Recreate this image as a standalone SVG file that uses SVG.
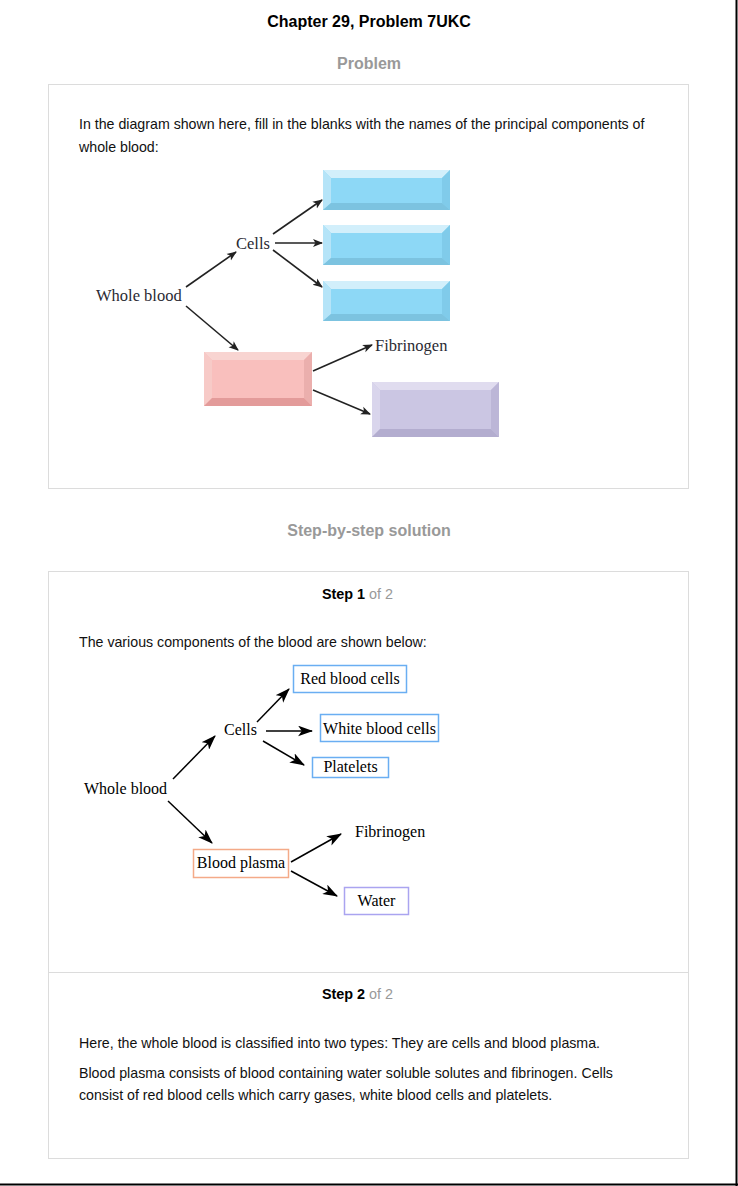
<svg xmlns="http://www.w3.org/2000/svg" width="738" height="1186" viewBox="0 0 738 1186">
  <style>
    .title { font-family: "Liberation Sans", Arial, sans-serif; font-size: 16px; font-weight: bold; fill: #000; }
    .head { font-family: "Liberation Sans", Arial, sans-serif; font-size: 16px; font-weight: bold; fill: #999; }
    .body { font-family: "Liberation Sans", Arial, sans-serif; font-size: 14.2px; fill: #111; }
    .step { font-family: "Liberation Sans", Arial, sans-serif; font-size: 14.4px; font-weight: bold; fill: #000; }
    .of { font-weight: normal; fill: #999; }
    .panel { fill: #fff; stroke: #dcdcdc; stroke-width: 1; }
    .fig { font-family: "Liberation Serif", "Times New Roman", serif; font-size: 16.5px; fill: #2a2a33; }
    .lbl { font-family: "Liberation Serif", "Times New Roman", serif; font-size: 16px; fill: #000; }
    .wire { stroke: #222; stroke-width: 1.6; fill: none; marker-end: url(#headS); }
    .wire2 { stroke: #000; stroke-width: 1.5; fill: none; marker-end: url(#headL); }
    .bx { fill: #fff; stroke-width: 1.5; }
  </style>
  <defs>
    <marker id="headS" viewBox="0 0 10 10" refX="9" refY="5" markerWidth="10" markerHeight="10" markerUnits="userSpaceOnUse" orient="auto">
      <path d="M0,1 L10,5 L0,9 L2.5,5 Z" fill="#222"/>
    </marker>
    <marker id="headL" viewBox="0 0 14 10" refX="13" refY="5" markerWidth="15" markerHeight="11" markerUnits="userSpaceOnUse" orient="auto">
      <path d="M0,0 L14,5 L0,10 L3.5,5 Z" fill="#000"/>
    </marker>
  </defs>

  <rect x="0" y="0" width="738" height="1186" fill="#fff"/>
  <!-- page frame edges -->
  <line x1="736.5" y1="0" x2="736.5" y2="1186" stroke="#000" stroke-width="2"/>
  <line x1="0" y1="1184.5" x2="738" y2="1184.5" stroke="#000" stroke-width="2"/>

  <text class="title" x="369" y="27" text-anchor="middle">Chapter 29, Problem 7UKC</text>
  <text class="head" x="369" y="69" text-anchor="middle">Problem</text>

  <!-- problem panel -->
  <rect class="panel" x="48.5" y="84.5" width="640" height="404"/>
  <text class="body" x="79" y="129">In the diagram shown here, fill in the blanks with the names of the principal components of</text>
  <text class="body" x="79" y="152">whole blood:</text>

  <!-- blank component boxes (bevelled) -->
  <g id="blank-cell-1">
    <rect x="323" y="170" width="127" height="40" fill="#8dd8f6"/>
    <polygon points="323,170 450,170 442,178 331,178" fill="#d2effb"/>
    <polygon points="323,170 331,178 331,203 323,210" fill="#b5e4f8"/>
    <polygon points="450,170 450,210 442,203 442,178" fill="#80cbea"/>
    <polygon points="323,210 331,203 442,203 450,210" fill="#7cc3e0"/>
  </g>
  <g id="blank-cell-2">
    <rect x="323" y="225" width="127" height="40" fill="#8dd8f6"/>
    <polygon points="323,225 450,225 442,233 331,233" fill="#d2effb"/>
    <polygon points="323,225 331,233 331,258 323,265" fill="#b5e4f8"/>
    <polygon points="450,225 450,265 442,258 442,233" fill="#80cbea"/>
    <polygon points="323,265 331,258 442,258 450,265" fill="#7cc3e0"/>
  </g>
  <g id="blank-cell-3">
    <rect x="323" y="281" width="127" height="40" fill="#8dd8f6"/>
    <polygon points="323,281 450,281 442,289 331,289" fill="#d2effb"/>
    <polygon points="323,281 331,289 331,314 323,321" fill="#b5e4f8"/>
    <polygon points="450,281 450,321 442,314 442,289" fill="#80cbea"/>
    <polygon points="323,321 331,314 442,314 450,321" fill="#7cc3e0"/>
  </g>
  <g id="blank-plasma">
    <rect x="204" y="352" width="108" height="54" fill="#f9bfbd"/>
    <polygon points="204,352 312,352 304,360 212,360" fill="#f8d4d1"/>
    <polygon points="204,352 212,360 212,398 204,406" fill="#f7cac7"/>
    <polygon points="312,352 312,406 304,398 304,360" fill="#ebafad"/>
    <polygon points="204,406 212,398 304,398 312,406" fill="#e39b9a"/>
  </g>
  <g id="blank-plasma-part">
    <rect x="372" y="382" width="127" height="55" fill="#cbc6e3"/>
    <polygon points="372,382 499,382 491,390 380,390" fill="#e0dcef"/>
    <polygon points="372,382 380,390 380,429 372,437" fill="#d9d5ec"/>
    <polygon points="499,382 499,437 491,429 491,390" fill="#bcb6d7"/>
    <polygon points="372,437 380,429 491,429 499,437" fill="#b3adcf"/>
  </g>
  <g id="fig-whole-blood"><text class="fig" x="96" y="301">Whole blood</text></g>
  <g id="fig-cells"><text class="fig" x="236" y="249">Cells</text></g>
  <g id="fig-fibrinogen"><text class="fig" x="375" y="351">Fibrinogen</text></g>

  <g id="fig-connectors">
    <line class="wire" x1="186" y1="287" x2="236" y2="252"/>
    <line class="wire" x1="273" y1="234" x2="322" y2="200"/>
    <line class="wire" x1="275" y1="243" x2="322" y2="243"/>
    <line class="wire" x1="273" y1="250" x2="322" y2="287"/>
    <line class="wire" x1="186" y1="306" x2="238" y2="350"/>
    <line class="wire" x1="313" y1="371" x2="372" y2="345"/>
    <line class="wire" x1="313" y1="390" x2="370" y2="414"/>
  </g>

  <text class="head" x="369" y="536" text-anchor="middle">Step-by-step solution</text>

  <!-- solution panel -->
  <rect class="panel" x="48.5" y="571.5" width="640" height="587"/>
  <line x1="48.5" y1="972.5" x2="688.5" y2="972.5" stroke="#dcdcdc" stroke-width="1"/>

  <text class="step" x="357.5" y="599" text-anchor="middle">Step 1 <tspan class="of">of 2</tspan></text>
  <text class="body" x="79" y="647">The various components of the blood are shown below:</text>

  <g id="whole-blood"><text class="lbl" x="84" y="794">Whole blood</text></g>
  <g id="cells"><text class="lbl" x="224" y="735">Cells</text></g>
  <g id="red-blood-cells">
    <rect class="bx" x="293.5" y="665.5" width="113" height="27" stroke="#6aaef2"/>
    <text class="lbl" x="350" y="684" text-anchor="middle">Red blood cells</text>
  </g>
  <g id="white-blood-cells">
    <rect class="bx" x="320.5" y="714.5" width="118" height="27" stroke="#6aaef2"/>
    <text class="lbl" x="379.5" y="734" text-anchor="middle">White blood cells</text>
  </g>
  <g id="platelets">
    <rect class="bx" x="312.5" y="757.5" width="76" height="20" stroke="#6aaef2"/>
    <text class="lbl" x="350.5" y="772" text-anchor="middle">Platelets</text>
  </g>
  <g id="blood-plasma">
    <rect class="bx" x="193.5" y="849.5" width="95" height="28" stroke="#f4aa88"/>
    <text class="lbl" x="241" y="868" text-anchor="middle">Blood plasma</text>
  </g>
  <g id="fibrinogen"><text class="lbl" x="355" y="837">Fibrinogen</text></g>
  <g id="water">
    <rect class="bx" x="344.5" y="887.5" width="64" height="27" stroke="#aaa4f0"/>
    <text class="lbl" x="376.5" y="906" text-anchor="middle">Water</text>
  </g>

  <g id="connectors">
    <line class="wire2" x1="173" y1="779" x2="215" y2="736"/>
    <line class="wire2" x1="257" y1="722" x2="289" y2="689"/>
    <line class="wire2" x1="266" y1="731" x2="312" y2="731"/>
    <line class="wire2" x1="263" y1="741" x2="304" y2="765"/>
    <line class="wire2" x1="168" y1="801" x2="212" y2="843"/>
    <line class="wire2" x1="291" y1="862" x2="341" y2="834"/>
    <line class="wire2" x1="291" y1="871" x2="337" y2="896"/>
  </g>

  <text class="step" x="357.5" y="999" text-anchor="middle">Step 2 <tspan class="of">of 2</tspan></text>
  <text class="body" x="79" y="1048">Here, the whole blood is classified into two types: They are cells and blood plasma.</text>
  <text class="body" x="79" y="1078">Blood plasma consists of blood containing water soluble solutes and fibrinogen. Cells</text>
  <text class="body" x="79" y="1100">consist of red blood cells which carry gases, white blood cells and platelets.</text>
</svg>
